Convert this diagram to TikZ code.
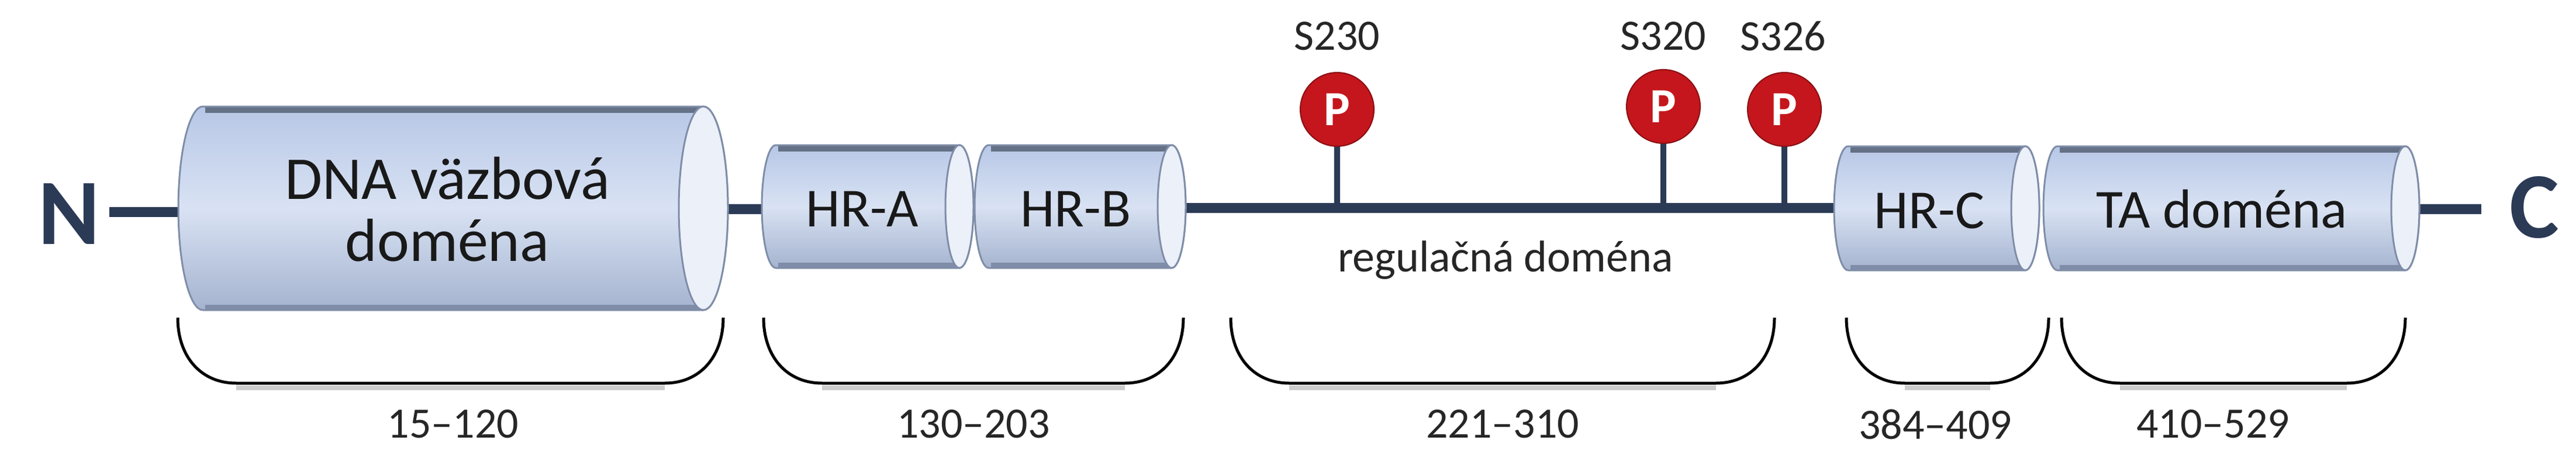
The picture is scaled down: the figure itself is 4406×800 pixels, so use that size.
\documentclass[tikz,border=0pt]{standalone}
\usepackage{fontspec}
\setmainfont{Carlito}
\definecolor{navy}{HTML}{2B3A55}
\definecolor{cylfill}{HTML}{B7C7E6}
\definecolor{cyllight}{HTML}{D8E2F3}
\definecolor{cylborder}{HTML}{7F8DA8}
\definecolor{pred}{HTML}{C4161C}
\newcommand{\mycyl}[6]{% name, x1, x2, top, bot, rx
  \pgfmathsetmacro{\hh}{(#5-#4)/2}
  \fill[top color=cylfill, bottom color=cylfill!90!black, middle color=cyllight] (#2+#6,#4) -- (#3-#6,#4) arc[start angle=90,end angle=-90,x radius=#6,y radius=-\hh] -- (#2+#6,#5) arc[start angle=-90,end angle=-270,x radius=#6,y radius=-\hh] -- cycle;
  \draw[cylborder!80!black, line width=10] (#2+#6+4,#4+6) -- (#3-#6,#4+6);
  \draw[cylborder, line width=8] (#2+#6+4,#5-5) -- (#3-#6,#5-5);
  \draw[cylborder, line width=3] (#2+#6,#4) -- (#3-#6,#4) arc[start angle=90,end angle=-90,x radius=#6,y radius=-\hh] -- (#2+#6,#5) arc[start angle=-90,end angle=-270,x radius=#6,y radius=-\hh] -- cycle;
  \filldraw[fill=cyllight!50!white, draw=cylborder, line width=3] (#3-#6,{(#4+#5)/2}) ellipse[x radius=#6, y radius=\hh];
  \coordinate (#1-w) at (#2,{(#4+#5)/2});
  \coordinate (#1-e) at (#3,{(#4+#5)/2});
}
\newcommand{\mybrk}[5]{% name, x1, x2, label, labelx
  \draw[gray!40, line width=8] (#2+100,663) -- (#3-100,663);
  \draw[black, line width=5] (#2,543) .. controls (#2,610) and (#2+40,655) .. (#2+100,655) -- (#3-100,655) .. controls (#3-40,655) and (#3,610) .. (#3,543);
  \node[font=\fontsize{74}{80}\selectfont, text=black!85] (#1) at (#5,725) {#4};
}
\begin{document}
\begin{tikzpicture}[x=1pt,y=-1pt,
  chain/.style={navy, line width=17},
  stem/.style={navy, line width=10},
  pcirc/.style={circle, fill=pred, draw=pred!70!black, line width=2, minimum size=126, inner sep=0, text=white, font=\bfseries\fontsize{84}{84}\selectfont},
  slabel/.style={font=\fontsize{74}{80}\selectfont, text=black!85},
  dlabel/.style={font=\fontsize{104}{112}\selectfont, text=black!90, align=center},
  hlabel/.style={font=\fontsize{94}{100}\selectfont, text=black!90},
  term/.style={font=\bfseries\fontsize{160}{160}\selectfont, text=navy}]
\useasboundingbox (0,0) rectangle (4406,800);
% terminals
\node[term] (N) at (118,366) {N};
\node[term] (C) at (4335,355) {C};
% chain lines (behind cylinders)
\coordinate (n1) at (187,362);
\coordinate (n2) at (305,362);
\draw[chain] (n1) -- (n2);
\coordinate (a1) at (1230,357);
\coordinate (a2) at (1320,357);
\draw[chain] (a1) -- (a2);
\coordinate (r1) at (2010,355);
\coordinate (r2) at (3150,355);
\draw[chain] (r1) -- (r2);
\coordinate (c1) at (4110,357);
\coordinate (c2) at (4244,357);
\draw[chain] (c1) -- (c2);
% cylinders
\mycyl{dna}{305}{1245}{182}{530}{42}
\mycyl{hra}{1303}{1665}{248}{458}{24}
\mycyl{hrb}{1667}{2028}{248}{458}{24}
\mycyl{hrc}{3137}{3488}{250}{462}{24}
\mycyl{ta}{3495}{4138}{250}{462}{24}
\node[dlabel] (tdna) at (765,358) {DNA väzbová\\[-6pt]doména};
\node[hlabel] (thra) at (1475,357) {HR-A};
\node[hlabel] (thrb) at (1840,357) {HR-B};
\node[hlabel] (thrc) at (3300,360) {HR-C};
\node[hlabel] (tta) at (3800,357) {TA doména};
\node[font=\fontsize{76}{80}\selectfont, text=black!85] (treg) at (2575,445) {regulačná doména};
% phosphorylation sites
\node[pcirc] (p1) at (2287,187) {P};
\node[pcirc] (p2) at (2845,182) {P};
\node[pcirc] (p3) at (3052,187) {P};
\coordinate (b1) at (2287,355);
\coordinate (b2) at (2845,355);
\coordinate (b3) at (3052,355);
\draw[stem] (p1) -- (b1);
\draw[stem] (p2) -- (b2);
\draw[stem] (p3) -- (b3);
\node[slabel] (s1) at (2287,62) {S230};
\node[slabel] (s2) at (2845,62) {S320};
\node[slabel] (s3) at (3050,62) {S326};
% brackets
\mybrk{l1}{304}{1237}{15–120}{775}
\mybrk{l2}{1306}{2024}{130–203}{1665}
\mybrk{l3}{2105}{3035}{221–310}{2570}
\mybrk{l4}{3158}{3504}{384–409}{3310}
\mybrk{l5}{3526}{4114}{410–529}{3785}
\end{tikzpicture}
\end{document}
